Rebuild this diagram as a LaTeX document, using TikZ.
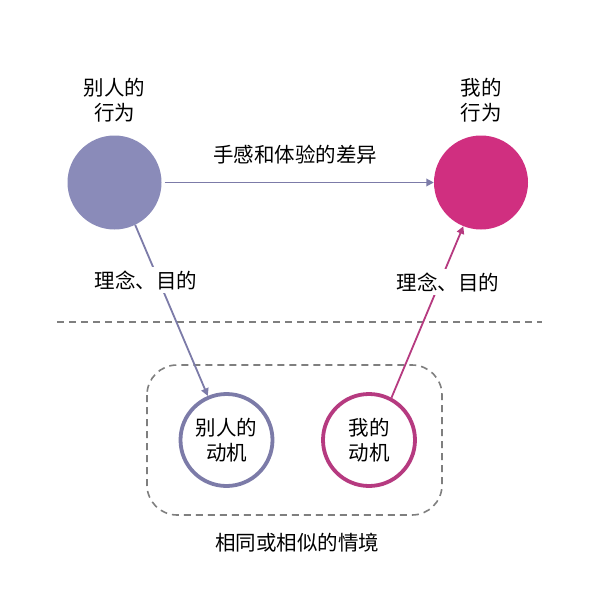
\documentclass[tikz,border=0pt]{standalone}
\usepackage{fontspec}
\setmainfont{Noto Sans CJK SC}
\usetikzlibrary{arrows.meta}
\definecolor{lav}{HTML}{8A8BB9}
\definecolor{lavline}{HTML}{7C7BA8}
\definecolor{mag}{HTML}{D02F80}
\definecolor{magline}{HTML}{B63A80}
\definecolor{dashgray}{HTML}{7F7F7F}
\begin{document}
\begin{tikzpicture}[x=1pt,y=-1pt,
  txt/.style={font=\fontsize{20.5}{24.5}\selectfont, align=center, inner sep=1pt},
  bigdisk/.style={circle, minimum size=94pt, inner sep=0pt},
  ring/.style={circle, minimum size=92pt, inner sep=0pt, line width=3.8pt, font=\fontsize{20.5}{24.5}\selectfont, align=center, fill=white},
  arr/.style={line width=1.8pt, -{Triangle[length=7.5pt,width=7.5pt]}},
  dsh/.style={dashgray, line width=1.6pt, dash pattern=on 7pt off 5pt}
]
\useasboundingbox (0,0) rectangle (600,595);
\fill[white] (0,0) rectangle (600,595);

% bottom dashed region
\draw[dsh, rounded corners=30pt] (147,365) rectangle (442,515);
\draw[dsh] (57,322) -- (542,322);

\node[bigdisk, fill=lav] (ob) at (114.5,182.5) {};
\node[bigdisk, fill=mag] (mb) at (481,182.5) {};
\node[txt] (obl) at (114.5,100) {别人的\\行为};
\node[txt] (mbl) at (481,100) {我的\\行为};

\node[ring, draw=lavline] (om) at (226.5,440) {别人的\\动机};
\node[ring, draw=magline] (mm) at (369,440) {我的\\动机};

\node[txt] (bot) at (297,543) {相同或相似的情境};

\draw[arr, lavline] (ob.east) ++(3,0) coordinate (hs) -- (mb.west);
\node[txt] (hl) at (295,155) {手感和体验的差异};

\draw[arr, lavline] (ob.-64) -- (om.113);
\node[txt, fill=white, inner sep=3pt] (l1) at (146,280) {理念、目的};

\draw[arr, magline] (mm.62) -- (mb.-112);
\node[txt, fill=white, inner sep=3pt] (l2) at (448,282) {理念、目的};
\end{tikzpicture}
\end{document}
